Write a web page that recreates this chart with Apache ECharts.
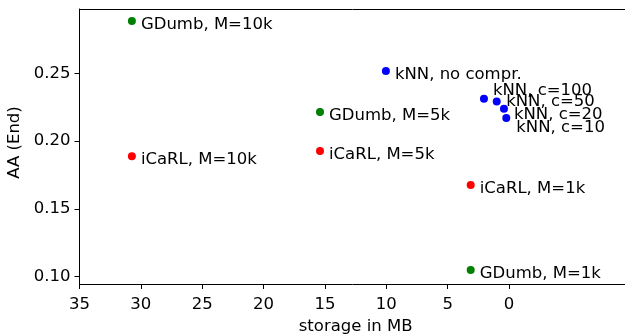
<!DOCTYPE html>
<html>
<head>
<meta charset="utf-8">
<script src="https://cdn.jsdelivr.net/npm/echarts@6/dist/echarts.min.js"></script>
<style>html,body{margin:0;padding:0;background:#fff;}#c{width:625px;height:334px;}</style>
</head>
<body>
<div id="c"></div>
<script>
// Data
const gdumbNames = ['GDumb, M=10k', 'GDumb, M=5k', 'GDumb, M=1k'];
const gdumbX = [30.73, 15.4, 3.12];
const gdumbY = [0.2886, 0.2215, 0.1049];

const icarlNames = ['iCaRL, M=10k', 'iCaRL, M=5k', 'iCaRL, M=1k'];
const icarlX = [30.73, 15.4, 3.12];
const icarlY = [0.1889, 0.1926, 0.1677];

const knnNames = ['kNN, no compr.', 'kNN, c=100', 'kNN, c=50', 'kNN, c=20', 'kNN, c=10'];
const knnX = [10.03, 2.04, 1.0, 0.41, 0.22];
const knnY = [0.2517, 0.2313, 0.2291, 0.2239, 0.2170];

const xTicks = [35, 30, 25, 20, 15, 10, 5, 0];
const yTicks = [0.10, 0.15, 0.20, 0.25];

// label offsets (layout only)
const labelOffset = {
  'kNN, c=100': [9, -8],
  'kNN, c=50': [9.5, 0],
  'kNN, c=20': [10, 6],
  'kNN, c=10': [10, 10]
};
const defaultOffset = [9, 3.5];
const SYM = 8;
const FONT = 'DejaVu Sans';
const FS = 16.5;

function build(names, xs, ys) {
  return names.map((n, i) => {
    const o = labelOffset[n] || defaultOffset;
    return {
      name: n,
      value: [xs[i], ys[i]],
      label: {
        show: true,
        formatter: n,
        position: [SYM / 2 + o[0], SYM / 2 + o[1]],
        align: 'left',
        verticalAlign: 'middle',
        color: '#000',
        fontFamily: FONT,
        fontSize: FS
      }
    };
  });
}

const chart = echarts.init(document.getElementById('c'), null, {renderer: 'canvas'});
const tickFont = {fontFamily: FONT, fontSize: FS, color: '#000'};
chart.setOption({
  animation: false,
  grid: {left: 79.5, top: 9, width: 552.2, bottom: 50, containLabel: false, outerBoundsMode: 'none'},
  xAxis: [{
    type: 'value',
    inverse: true,
    min: -10,
    max: 35,
    name: 'storage in MB',
    nameLocation: 'middle',
    nameGap: 34,
    nameTextStyle: {fontFamily: FONT, fontSize: FS, color: '#000'},
    splitLine: {show: false},
    axisLine: {show: true, onZero: false, lineStyle: {color: '#000', width: 1}},
    axisTick: {show: true, inside: false, length: 5, lineStyle: {color: '#000'}, customValues: xTicks},
    axisLabel: Object.assign({margin: 12, customValues: xTicks}, tickFont)
  }, {
    type: 'value',
    position: 'top',
    inverse: true,
    min: -10,
    max: 35,
    splitLine: {show: false},
    axisLine: {show: true, onZero: false, lineStyle: {color: '#000', width: 1}},
    axisTick: {show: false},
    axisLabel: {show: false}
  }],
  yAxis: {
    type: 'value',
    min: 0.0946,
    max: 0.2974,
    name: 'AA (End)',
    nameLocation: 'middle',
    nameGap: 55,
    nameTextStyle: {fontFamily: FONT, fontSize: FS, color: '#000', padding: [0, 0, 0, 8]},
    splitLine: {show: false},
    axisLine: {show: true, onZero: false, lineStyle: {color: '#000', width: 1}},
    axisTick: {show: true, inside: false, length: 5, lineStyle: {color: '#000'}, customValues: yTicks},
    axisLabel: Object.assign({margin: 9, customValues: yTicks, formatter: v => v.toFixed(2)}, tickFont)
  },
  series: [
    {type: 'scatter', symbolSize: SYM, itemStyle: {color: '#008000', opacity: 1}, data: build(gdumbNames, gdumbX, gdumbY)},
    {type: 'scatter', symbolSize: SYM, itemStyle: {color: '#ff0000', opacity: 1}, data: build(icarlNames, icarlX, icarlY)},
    {type: 'scatter', symbolSize: SYM, itemStyle: {color: '#0000ff', opacity: 1}, data: build(knnNames, knnX, knnY)}
  ]
});
</script>
</body>
</html>
